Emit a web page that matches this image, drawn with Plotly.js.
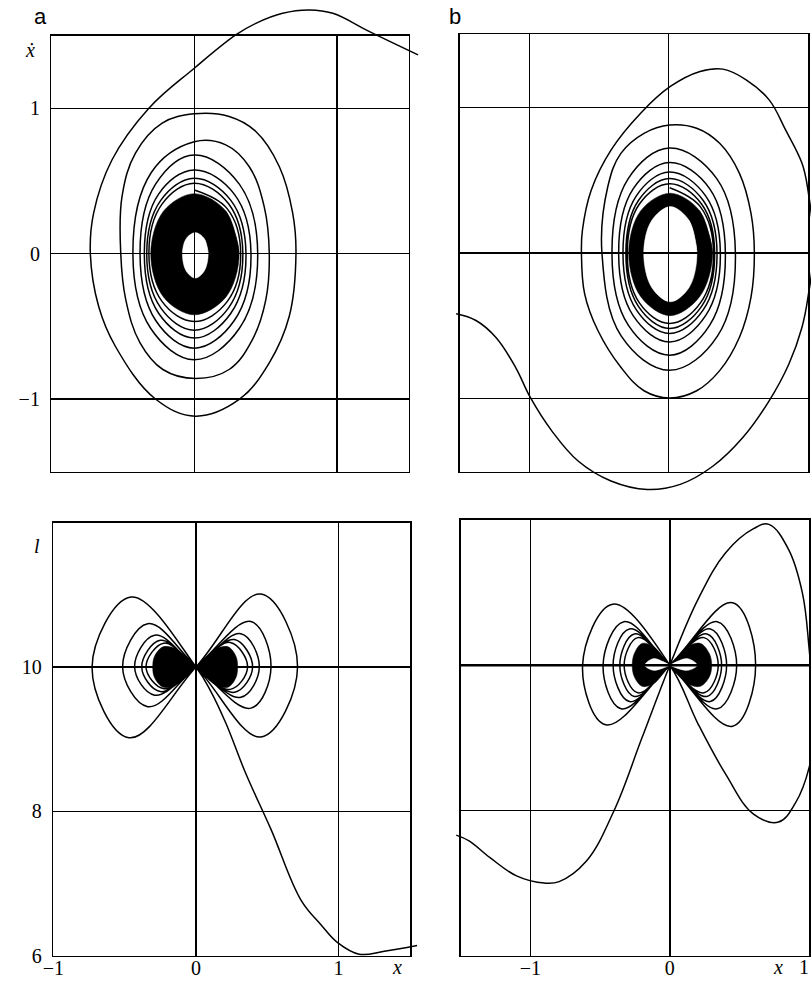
<!DOCTYPE html>
<html>
<head>
<meta charset="utf-8">
<script src="https://cdn.plot.ly/plotly-3.0.1.min.js"></script>
<style>
html, body { margin: 0; padding: 0; background: #fff; }
#chart { width: 811px; height: 988px; }
</style>
</head>
<body>
<div id="chart"></div>
<script>
// ---------- Panel a, phase plane (x, x-dot): trajectory samples ----------
const aPhaseX = [1.567, 1.227, 0.970, 0.806, 0.618, 0.431, 0.290, 0.0, -0.318, -0.576, -0.705, -0.728, -0.670, -0.553, -0.272, 0.009, 0.314, 0.525, 0.665, 0.712, 0.689, 0.595, 0.431, 0.244, 0.0,
  -0.225, -0.412, -0.506, -0.515, -0.480, -0.380, -0.220, 0.009, 0.244, 0.407, 0.501, 0.525, 0.489, 0.384, 0.220, 0.0,
  -0.300, -0.430, -0.305, 0.0, 0.315, 0.444, 0.314, 0.0,
  -0.270, -0.380, -0.270, 0.0, 0.280, 0.397, 0.280, 0.0,
  -0.250, -0.350, -0.250, 0.0, 0.256, 0.362, 0.256, 0.0,
  -0.235, -0.333, -0.235, 0.0, 0.240, 0.340, 0.240, 0.0,
  -0.225, -0.318, -0.225, 0.0, 0.230, 0.325, 0.230, 0.0];
const aPhaseY = [1.368, 1.528, 1.654, 1.677, 1.654, 1.585, 1.505, 1.276, 1.001, 0.646, 0.279, 0.0, -0.362, -0.637, -1.000, -1.118, -1.003, -0.751, -0.431, 0.0, 0.279, 0.600, 0.841, 0.944, 0.962,
  0.898, 0.692, 0.394, 0.0, -0.316, -0.614, -0.797, -0.859, -0.797, -0.591, -0.316, 0.0, 0.325, 0.600, 0.749, 0.770,
  0.560, 0.0, -0.515, -0.730, -0.515, 0.0, 0.480, 0.679,
  0.480, 0.0, -0.460, -0.650, -0.460, 0.0, 0.410, 0.576,
  0.410, 0.0, -0.410, -0.581, -0.410, 0.0, 0.367, 0.519,
  0.367, 0.0, -0.373, -0.527, -0.373, 0.0, 0.343, 0.485,
  0.343, 0.0, -0.330, -0.467, -0.330, 0.0, 0.310, 0.438];
// tightly wound core: outer edge and central hole
const aCoreX = [0.314, 0.222, 0.0, -0.216, -0.305, -0.216, 0.0, 0.222];
const aCoreY = [0.0, 0.292, 0.413, 0.292, 0.0, -0.298, -0.421, -0.298];
const aHoleX = [0.097, 0.070, 0.007, -0.057, -0.083, -0.057, 0.007, 0.070];
const aHoleY = [0.0, 0.103, 0.145, 0.103, 0.0, -0.119, -0.168, -0.119];

// ---------- Panel b, phase plane (x, x-dot) ----------
const bPhaseX = [-1.525, -1.383, -1.241, -1.099, -0.993, -0.839, -0.650, -0.414, -0.154, 0.083, 0.319, 0.532, 0.721, 0.863, 0.957, 1.000, 1.040, 1.000, 0.957, 0.839, 0.721, 0.556, 0.390, 0.225, 0.012, -0.201, -0.414, -0.556, -0.619, -0.626, -0.603, -0.508, -0.343, -0.177, 0.007, 0.201, 0.366, 0.508, 0.591, 0.615, 0.591, 0.508, 0.366, 0.201, 0.007,
  -0.177, -0.343, -0.437, -0.479, -0.340, 0.007, 0.350, 0.479, 0.345, 0.007,
  -0.290, -0.407, -0.290, 0.007, 0.295, 0.407, 0.295, 0.007,
  -0.255, -0.359, -0.255, 0.007, 0.265, 0.371, 0.265, 0.007,
  -0.232, -0.328, -0.232, 0.007, 0.248, 0.347, 0.248, 0.007,
  -0.217, -0.307, -0.217, 0.007, 0.236, 0.330, 0.236, 0.007,
  -0.210, -0.297, -0.210, 0.007, 0.228, 0.322, 0.228, 0.007];
const bPhaseY = [-0.417, -0.463, -0.578, -0.784, -0.991, -1.220, -1.427, -1.564, -1.622, -1.587, -1.461, -1.266, -1.014, -0.761, -0.509, -0.303, 0.040, 0.430, 0.615, 0.844, 1.050, 1.188, 1.261, 1.245, 1.142, 0.959, 0.706, 0.431, 0.156, 0.0, -0.280, -0.532, -0.784, -0.945, -0.995, -0.945, -0.807, -0.578, -0.303, 0.0, 0.271, 0.546, 0.752, 0.856, 0.878,
  0.821, 0.683, 0.454, 0.0, -0.570, -0.804, -0.570, 0.0, 0.510, 0.720,
  0.510, 0.0, -0.495, -0.701, -0.495, 0.0, 0.440, 0.620,
  0.440, 0.0, -0.430, -0.610, -0.430, 0.0, 0.392, 0.555,
  0.392, 0.0, -0.390, -0.552, -0.390, 0.0, 0.360, 0.510,
  0.360, 0.0, -0.366, -0.518, -0.366, 0.0, 0.336, 0.475,
  0.336, 0.0, -0.342, -0.483, -0.342, 0.0, 0.316, 0.447];
const bCoreX = [0.315, 0.222, 0.010, -0.200, -0.287, -0.200, 0.010, 0.222];
const bCoreY = [0.0, 0.290, 0.410, 0.290, 0.0, -0.300, -0.430, -0.300];
const bHoleX = [0.203, 0.147, 0.012, -0.122, -0.179, -0.122, 0.012, 0.147];
const bHoleY = [0.0, 0.222, 0.318, 0.222, 0.0, -0.236, -0.335, -0.236];

// ---------- Panel a, (x, l) ----------
const aLenLeadX = [1.550, 1.320, 1.144, 0.993, 0.876, 0.736, 0.526, 0.350, 0.210, 0.105, 0.0];
const aLenLeadL = [6.14, 6.06, 6.02, 6.18, 6.43, 6.77, 7.75, 8.52, 9.22, 9.66, 10.0];
// lobes in path order: extreme x, top (x, l), bottom (x, l)
const aLobeExt  = [-0.728, 0.712, -0.514, 0.526, -0.430, 0.444, -0.380, 0.397, -0.350, 0.362];
const aLobeTopX = [-0.455, 0.455, -0.338, 0.385, -0.290, 0.315, -0.250, 0.270, -0.225, 0.240];
const aLobeTopL = [10.97, 11.01, 10.60, 10.63, 10.44, 10.46, 10.37, 10.38, 10.33, 10.34];
const aLobeBotX = [-0.470, 0.455, -0.338, 0.385, -0.290, 0.315, -0.250, 0.270, -0.225, 0.240];
const aLobeBotL = [9.02, 9.03, 9.45, 9.43, 9.61, 9.58, 9.66, 9.65, 9.70, 9.69];
// tightly wound core, left and right lobes
const aLenCoreX = [0.0, -0.060, -0.140, -0.230, -0.290, -0.303, -0.290, -0.230, -0.140, -0.060,
                   0.0, 0.060, 0.140, 0.225, 0.280, 0.292, 0.280, 0.225, 0.140, 0.060, 0.0, -0.060];
const aLenCoreL = [10.0, 10.12, 10.25, 10.28, 10.15, 10.0, 9.85, 9.72, 9.75, 9.88,
                   10.0, 10.12, 10.25, 10.28, 10.15, 10.0, 9.85, 9.72, 9.75, 9.88, 10.0, 10.12];

// ---------- Panel b, (x, l) ----------
const bLenLeadX = [-1.532, -1.440, -1.290, -1.100, -0.900, -0.794, -0.600, -0.400, -0.200, 0.0, 0.200, 0.400, 0.600, 0.710, 0.850, 0.950, 1.000, 1.040, 1.000, 0.900, 0.780, 0.600, 0.400, 0.200, 0.0];
const bLenLeadL = [7.66, 7.58, 7.35, 7.10, 7.00, 7.02, 7.30, 8.00, 9.00, 10.0, 10.90, 11.55, 11.88, 11.94, 11.60, 11.00, 10.20, 9.20, 8.60, 8.10, 7.84, 7.95, 8.50, 9.20, 10.0];
const bLobeExt  = [-0.626, 0.615, -0.479, 0.479, -0.407, 0.407, -0.359, 0.371, -0.328, 0.347];
const bLobeTopX = [-0.410, 0.449, -0.330, 0.340, -0.290, 0.290, -0.255, 0.265, -0.230, 0.245];
const bLobeTopL = [10.84, 10.86, 10.60, 10.60, 10.50, 10.50, 10.43, 10.43, 10.38, 10.38];
const bLobeBotX = [-0.460, 0.449, -0.350, 0.340, -0.290, 0.290, -0.255, 0.265, -0.230, 0.245];
const bLobeBotL = [9.18, 9.16, 9.40, 9.40, 9.50, 9.50, 9.57, 9.57, 9.62, 9.62];
const bLenCoreX = [0.0, -0.050, -0.120, -0.200, -0.255, -0.270, -0.255, -0.200, -0.120, -0.050,
                   0.0, 0.055, 0.130, 0.220, 0.283, 0.300, 0.283, 0.220, 0.130, 0.055, 0.0, -0.050];
const bLenCoreL = [10.0, 10.12, 10.26, 10.30, 10.16, 10.0, 9.84, 9.71, 9.74, 9.88,
                   10.0, 10.12, 10.26, 10.30, 10.16, 10.0, 9.84, 9.71, 9.74, 9.88, 10.0, 10.12];
const bLenHoleX = [0.0, -0.050, -0.120, -0.180, -0.120, -0.050, 0.0, 0.050, 0.130, 0.196, 0.130, 0.050, 0.0, -0.050];
const bLenHoleL = [10.0, 10.05, 10.09, 10.0, 9.93, 9.96, 10.0, 10.05, 10.09, 10.0, 9.93, 9.96, 10.0, 10.05];

// ---------- axes ----------
const xTicksA = [-1, 0, 1], xTickTextA = ['\u22121', '0', '1'];
const xTicksB = [-1, 0], xTickTextB = ['\u22121', '0'];
const xEndLabelB = '1';
const yTicksPhase = [-1, 0, 1], yTickTextPhase = ['\u22121', '0', '1'];
const yTicksLen = [6, 8, 10], yTickTextLen = ['6', '8', '10'];

// ---------- path helpers ----------
function closed(xs, ys) {
  // closed loop: the first arc is repeated so the spline closes without a kink
  return [xs.concat([xs[0], xs[1]]), ys.concat([ys[0], ys[1]])];
}
function lobes(leadX, leadL, ext, tx, tl, bx, bl) {
  const xs = leadX.slice(), ls = leadL.slice();
  for (let k = 0; k < ext.length; k++) {
    xs.push(tx[k], ext[k], bx[k], 0);
    ls.push(tl[k], 10, bl[k], 10);
  }
  return [xs, ls];
}

const LINE = { color: '#000', width: 1.5, shape: 'spline', smoothing: 1.1, simplify: false };
function curve(p, ax) {
  return { x: p[0], y: p[1], xaxis: ax[0], yaxis: ax[1], mode: 'lines', line: LINE, hoverinfo: 'skip', showlegend: false };
}
function blob(p, ax, color) {
  return { x: p[0], y: p[1], xaxis: ax[0], yaxis: ax[1], mode: 'lines', fill: 'toself', fillcolor: color,
           line: { color: color, width: 0.5, shape: 'spline', smoothing: 1.0, simplify: false }, hoverinfo: 'skip', showlegend: false };
}

// ---------- panel geometry (paper fractions) ----------
const panels = [
  { dx: [0.0635, 0.5037], dy: [0.5226, 0.9639], rx: [-1, 1.5], ry: [-1.5, 1.5], ox: [0, 0.55], oy: [0.5, 1] },
  { dx: [0.5668, 0.9963], dy: [0.5226, 0.9653], rx: [-1.5, 1], ry: [-1.5, 1.5], ox: [0.55, 1], oy: [0.5, 1] },
  { dx: [0.0657, 0.5055], dy: [0.0327, 0.4710], rx: [-1, 1.5], ry: [6, 12], ox: [0, 0.55], oy: [0, 0.5] },
  { dx: [0.5681, 0.9979], dy: [0.0327, 0.4737], rx: [-1.5, 1], ry: [6, 12], ox: [0.55, 1], oy: [0, 0.5] }
];
function widen(r, d, o) {
  const s = (r[1] - r[0]) / (d[1] - d[0]);
  return [r[0] - (d[0] - o[0]) * s, r[1] + (o[1] - d[1]) * s];
}

const SERIF = 'Liberation Serif';
const layout = {
  width: 811, height: 988,
  margin: { l: 0, r: 0, t: 0, b: 0 },
  paper_bgcolor: '#ffffff', plot_bgcolor: 'rgba(0,0,0,0)',
  font: { family: SERIF, size: 20, color: '#000' },
  showlegend: false,
  annotations: [], shapes: []
};

panels.forEach((p, i) => {
  const n = i + 1, f = i + 5;
  // invisible axes carrying the curves, same scale as the framed axes
  layout['xaxis' + (n === 1 ? '' : n)] = { domain: p.ox, range: widen(p.rx, p.dx, p.ox), visible: false, fixedrange: true };
  layout['yaxis' + (n === 1 ? '' : n)] = { domain: p.oy, range: widen(p.ry, p.dy, p.oy), visible: false, fixedrange: true };
  // framed axes with grid and tick labels
  const common = { showline: true, mirror: true, linecolor: '#000', linewidth: 1.6,
    showgrid: true, gridcolor: '#000', gridwidth: 1.3, zeroline: false, ticks: '',
    tickfont: { family: SERIF, size: 20, color: '#000' }, fixedrange: true,
    tickmode: 'array', ticklabeloverflow: 'allow' };
  layout['xaxis' + f] = Object.assign({}, common, { domain: p.dx, range: p.rx, anchor: 'y' + f });
  layout['yaxis' + f] = Object.assign({}, common, { domain: p.dy, range: p.ry, anchor: 'x' + f });
});
// grid positions and labels per panel
Object.assign(layout.xaxis5, { tickvals: [0, 1], showticklabels: false });
Object.assign(layout.yaxis5, { tickvals: yTicksPhase, ticktext: yTickTextPhase, ticklabelstandoff: 6 });
Object.assign(layout.xaxis6, { tickvals: [-1, 0], showticklabels: false });
Object.assign(layout.yaxis6, { tickvals: yTicksPhase, showticklabels: false });
Object.assign(layout.xaxis7, { tickvals: xTicksA, ticktext: xTickTextA, ticklabelstandoff: -6 });
Object.assign(layout.yaxis7, { tickvals: yTicksLen, ticktext: yTickTextLen, ticklabelstandoff: 6 });
Object.assign(layout.xaxis8, { tickvals: xTicksB, ticktext: xTickTextB, ticklabelstandoff: -6 });
Object.assign(layout.yaxis8, { tickvals: [8, 10], showticklabels: false });

// heavier line at l = 10 in panel b
layout.shapes.push({ type: 'line', xref: 'x8 domain', x0: 0, x1: 1, yref: 'y8', y0: 10, y1: 10, line: { color: '#000', width: 2.6 } });

// panel letters and axis symbols
const sans = { family: 'Liberation Sans', size: 22, color: '#000' };
const ital = { family: SERIF, size: 20, color: '#000' };
const upright = { family: SERIF, size: 20, color: '#000' };
function note(text, x, y, font) {
  layout.annotations.push({ text: text, x: x / 811, y: 1 - y / 988, xref: 'paper', yref: 'paper',
    showarrow: false, font: font, xanchor: 'center', yanchor: 'middle' });
}
note('a', 40, 17, sans);
note('b', 455, 16, sans);
note('<i>\u1E8B</i>', 30, 50, ital);
note('<i>l</i>', 37, 546, ital);
note('<i>x</i>', 397, 967, ital);
note('<i>x</i>', 778, 967, ital);
// last tick label of panel b sits at the page edge; keep it inside
layout.annotations.push({ text: xEndLabelB, x: 1, xref: 'x8', y: 1 - 967 / 988, yref: 'paper',
  showarrow: false, font: upright, xanchor: 'right', yanchor: 'middle', xshift: 2 });

const AX = [['x', 'y'], ['x2', 'y2'], ['x3', 'y3'], ['x4', 'y4']];
const data = [
  curve([aPhaseX, aPhaseY], AX[0]),
  blob(closed(aCoreX, aCoreY), AX[0], '#000'),
  blob(closed(aHoleX, aHoleY), AX[0], '#fff'),
  curve([bPhaseX, bPhaseY], AX[1]),
  blob(closed(bCoreX, bCoreY), AX[1], '#000'),
  blob(closed(bHoleX, bHoleY), AX[1], '#fff'),
  curve(lobes(aLenLeadX, aLenLeadL, aLobeExt, aLobeTopX, aLobeTopL, aLobeBotX, aLobeBotL), AX[2]),
  blob([aLenCoreX, aLenCoreL], AX[2], '#000'),
  curve(lobes(bLenLeadX, bLenLeadL, bLobeExt, bLobeTopX, bLobeTopL, bLobeBotX, bLobeBotL), AX[3]),
  blob([bLenCoreX, bLenCoreL], AX[3], '#000'),
  blob([bLenHoleX, bLenHoleL], AX[3], '#fff'),
  // empty traces that place the framed subplots above the curves
  { x: [], y: [], xaxis: 'x5', yaxis: 'y5', mode: 'lines', showlegend: false },
  { x: [], y: [], xaxis: 'x6', yaxis: 'y6', mode: 'lines', showlegend: false },
  { x: [], y: [], xaxis: 'x7', yaxis: 'y7', mode: 'lines', showlegend: false },
  { x: [], y: [], xaxis: 'x8', yaxis: 'y8', mode: 'lines', showlegend: false }
];

Plotly.newPlot('chart', data, layout, { staticPlot: true, displayModeBar: false });
</script>
</body>
</html>
